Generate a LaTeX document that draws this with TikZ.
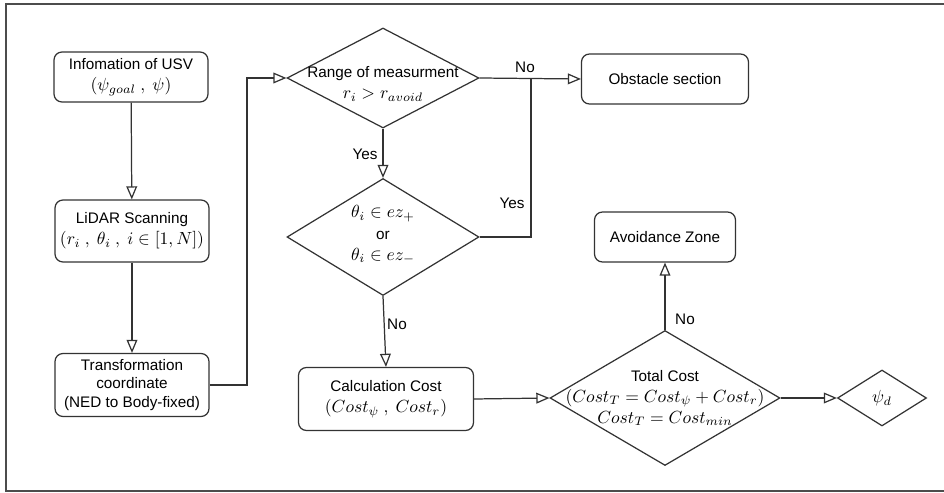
\documentclass[tikz,border=0pt]{standalone}
\usepackage{amsmath,amssymb}
\usepackage{fontspec}
\setmainfont{Liberation Sans}[Scale=0.87]
\usetikzlibrary{arrows,shapes.geometric}

\tikzset{
    box/.style={draw=black!80, line width=0.7pt, rounded corners=4.5pt, align=center, inner sep=1pt, font=\fontsize{10}{12}\selectfont},
    decision/.style={draw=black!80, line width=0.7pt, diamond, inner sep=0pt},
    txt/.style={align=center, inner sep=0pt, font=\fontsize{10}{12}\selectfont},
    flow/.style={draw=black!80, line width=0.7pt, -open triangle 45},
    lbl/.style={inner sep=0pt, font=\fontsize{10}{12}\selectfont}
}

\begin{document}
\begin{tikzpicture}[x=0.02cm, y=-0.02cm]
            \useasboundingbox (0,0) rectangle (944,493);
            \draw[black!70, line width=1.1pt] (6,4) rectangle (980,491);

            \node[box, minimum width=3.08cm, minimum height=1cm] (info) at (131,77) {Infomation of USV\\$(\psi_{goal}~,~\psi)$};
            \node[box, minimum width=3.08cm, minimum height=1.24cm] (lidar) at (132,231) {LiDAR Scanning\\$(r_i~,~\theta_i~,~i\in[1,N])$};
            \node[box, minimum width=3.08cm, minimum height=1.26cm, font=\fontsize{10}{10.5}\selectfont] (trans) at (132,385) {Transformation\\coordinate\\(NED to Body-fixed)};

            \node[decision, minimum width=3.84cm, minimum height=2cm] (range) at (383,78) {};
            \node[txt] (rangetxt) at (383,84) {Range of measurment\\$r_i > r_{avoid}$};
            \node[decision, minimum width=3.84cm, minimum height=2.34cm] (cond) at (383,237) {};
            \node[txt] (condtxt) at (383,235) {$\theta_i\in ez_+$\\or\\$\theta_i\in ez_-$};
            \node[box, minimum width=3.5cm, minimum height=1.26cm] (calc) at (386,399) {Calculation Cost\\$(Cost_\psi~,~Cost_r)$};

            \node[box, minimum width=3.34cm, minimum height=1cm] (obst) at (665,79) {Obstacle section};
            \node[box, minimum width=2.82cm, minimum height=1cm] (avoid) at (665,237) {Avoidance Zone};
            \node[decision, minimum width=4.6cm, minimum height=2.7cm] (total) at (665,398) {};
            \node[txt] (totaltxt) at (665,398) {Total Cost\\$(Cost_T = Cost_\psi + Cost_r)$\\$Cost_T = Cost_{min}$};
            \node[decision, minimum width=1.78cm, minimum height=1.12cm] (psid) at (882,398) {};
            \node[txt] (psidtxt) at (882,398) {$\psi_d$};

            \coordinate (bend) at (247,385);
            \coordinate (jn) at (531,79);

            \draw[flow] (info) -- (lidar);
            \draw[flow] (lidar) -- (trans);
            \draw[flow] (trans.east) -- (bend) |- (range.west);
            \draw[flow] (range.east) -- (obst.west);
            \draw[flow] (range.south) -- (cond.north);
            \draw[draw=black!80, line width=0.7pt] (cond.east) -| (jn);
            \draw[flow] (cond.south) -- (calc.north);
            \draw[flow] (calc.east) -- (total.west);
            \draw[flow] (total.north) -- (avoid.south);
            \draw[flow] (total.east) -- (psid.west);

            \node[lbl] (no1) at (525,67) {No};
            \node[lbl] (yes1) at (365,154) {Yes};
            \node[lbl] (yes2) at (512,203) {Yes};
            \node[lbl] (no2) at (397,324) {No};
            \node[lbl] (no3) at (685,319) {No};
         \end{tikzpicture}
\end{document}
